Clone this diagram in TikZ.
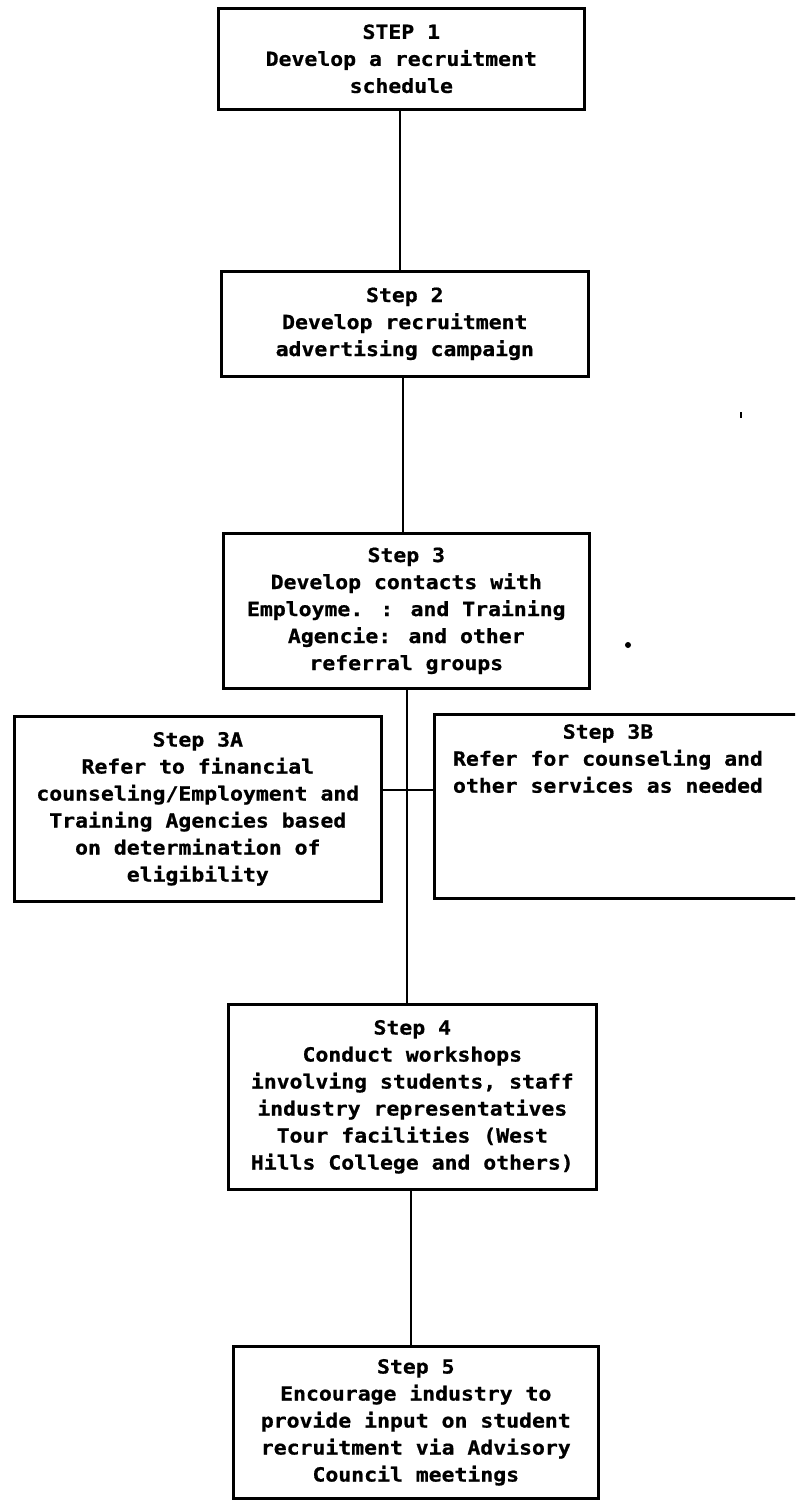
\documentclass[tikz,border=0pt]{standalone}
\usepackage{fontspec}
\newfontfamily\stepfont[FakeStretch=1.1,FakeBold=0.8]{DejaVu Sans Mono Bold}
\begin{document}
\begin{tikzpicture}[x=1pt,y=-1pt,
  stepbox/.style={draw=black,line width=2.6pt,rectangle,anchor=north west,
    inner sep=0pt,align=center,font=\stepfont\fontsize{19.5}{27}\selectfont},
  steptext/.style={inner sep=0pt,align=center,font=\stepfont\fontsize{19.5}{27}\selectfont},
  link/.style={draw=black,line width=2pt}]
\useasboundingbox (0,0) rectangle (795,1501);
\clip (0,0) rectangle (795,1501);
\fill[white] (0,0) rectangle (795,1501);

\node[stepbox,minimum width=366pt,minimum height=101pt] (s1) at (217,7)
  {STEP 1\\Develop a recruitment\\schedule};
\node[stepbox,minimum width=367pt,minimum height=105pt] (s2) at (220,270)
  {Step 2\\Develop recruitment\\advertising campaign};
\node[stepbox,minimum width=366pt,minimum height=155pt] (s3) at (222,532)
  {Step 3\\Develop contacts with\\Employme. : and Training\\Agencie: and other\\referral groups};
\node[stepbox,minimum width=367pt,minimum height=185pt] (s3a) at (13,715)
  {Step 3A\\Refer to financial\\counseling/Employment and\\Training Agencies based\\on determination of\\eligibility};
\node[stepbox,minimum width=400pt,minimum height=184pt] (s3b) at (433,713) {};
\node[steptext,anchor=north] (s3bt) at (608,724)
  {Step 3B\\Refer for counseling and\\other services as needed};
\node[stepbox,minimum width=368pt,minimum height=185pt] (s4) at (227,1003)
  {Step 4\\Conduct workshops\\involving students, staff\\industry representatives\\Tour facilities (West\\Hills College and others)};
\node[stepbox,minimum width=365pt,minimum height=152pt] (s5) at (232,1345)
  {Step 5\\Encourage industry to\\provide input on student\\recruitment via Advisory\\Council meetings};

\coordinate (j) at (407,790);
\coordinate (t1) at (400,0);
\coordinate (t2) at (403,0);
\coordinate (t4) at (411,0);

\draw[link] (s1.south -| t1) -- (s2.north -| t1);
\draw[link] (s2.south -| t2) -- (s3.north -| t2);
\draw[link] (s3.south -| j) -- (s4.north -| j);
\draw[link] (s3a.east |- j) -- (s3b.west |- j);
\draw[link] (s4.south -| t4) -- (s5.north -| t4);

\fill[black] (628,645) circle (3pt);
\draw[black,line width=1.2pt] (741,412) -- (741,418);
\end{tikzpicture}
\end{document}
